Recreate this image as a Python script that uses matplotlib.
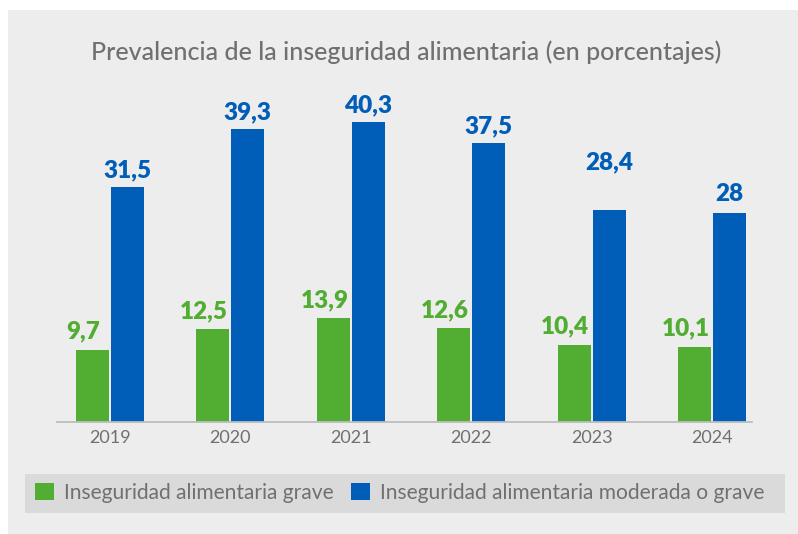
import matplotlib
matplotlib.use("Agg")
import matplotlib.pyplot as plt
from matplotlib.patches import Rectangle, Patch
import numpy as np

years = ["2019", "2020", "2021", "2022", "2023", "2024"]
grave = [9.7, 12.5, 13.9, 12.6, 10.4, 10.1]
moderada_grave = [31.5, 39.3, 40.3, 37.5, 28.4, 28.0]
series_names = ["Inseguridad alimentaria grave",
                "Inseguridad alimentaria moderada o grave"]
title = "Prevalencia de la inseguridad alimentaria (en porcentajes)"

GREEN = "#52AE32"
BLUE = "#005EB8"
GRAY_TXT = "#707070"

W, H = 798, 534
fig = plt.figure(figsize=(W / 100, H / 100), dpi=100)
fig.patch.set_facecolor("white")

# background panel
fig.add_artist(Rectangle((8 / W, 0), (W - 8) / W, (H - 10) / H,
                         transform=fig.transFigure, facecolor="#EDEDED",
                         edgecolor="none", zorder=0))
# legend band
fig.add_artist(Rectangle((25 / W, (H - 513) / H), (785 - 25) / W, 39 / H,
                         transform=fig.transFigure, facecolor="#DADADA",
                         edgecolor="none", zorder=0))

ax_left, ax_right = 57, 752
ax_bottom, ax_top = 422, 90
ax = fig.add_axes([ax_left / W, (H - ax_bottom) / H,
                   (ax_right - ax_left) / W, (ax_bottom - ax_top) / H])
ax.set_facecolor("none")

x = np.arange(len(years))
bw = 0.274
off = 0.145
ax.bar(x - off, grave, bw, color=GREEN, zorder=2)
ax.bar(x + off, moderada_grave, bw, color=BLUE, zorder=2)

ax.set_xlim(-0.44, 5.33)
ax.set_ylim(0, 332 / 7.45)

for s in ["top", "right", "left"]:
    ax.spines[s].set_visible(False)
ax.spines["bottom"].set_color("#BDBDBD")
ax.spines["bottom"].set_linewidth(1.3)
ax.set_yticks([])
ax.set_xticks(x)
ax.set_xticklabels(years, fontsize=13, color=GRAY_TXT, family="Lato")
ax.tick_params(axis="x", length=0, pad=6)

blue_dy = [4, 4, 4, 4, 27, 6]
for xi, v in zip(x, grave):
    ax.annotate(f"{v:g}".replace(".", ","), (xi - off, v),
                xytext=(-6.5, 5), textcoords="offset points",
                ha="center", va="bottom", fontsize=17.5, fontweight="heavy",
                family="Lato", color=GREEN)
for xi, v, dy in zip(x, moderada_grave, blue_dy):
    ax.annotate(f"{v:g}".replace(".", ","), (xi + off, v),
                xytext=(0, dy), textcoords="offset points",
                ha="center", va="bottom", fontsize=17.5, fontweight="heavy",
                family="Lato", color=BLUE)

fig.text(406 / W, 1 - 52 / H, title, ha="center", va="center",
         fontsize=18, color=GRAY_TXT, family="Lato", fontweight="medium")

handles = [Patch(facecolor=GREEN), Patch(facecolor=BLUE)]
leg = fig.legend(handles, series_names, loc="center left",
                 bbox_to_anchor=(35 / W, 1 - 493 / H), ncol=2,
                 frameon=False, borderpad=0, borderaxespad=0,
                 handlelength=0.9, handleheight=0.9,
                 handletextpad=0.5, columnspacing=0.8,
                 prop={"family": "Lato", "size": 15.1})
for t in leg.get_texts():
    t.set_color(GRAY_TXT)

fig.savefig("out.png", dpi=100, facecolor=fig.get_facecolor())
